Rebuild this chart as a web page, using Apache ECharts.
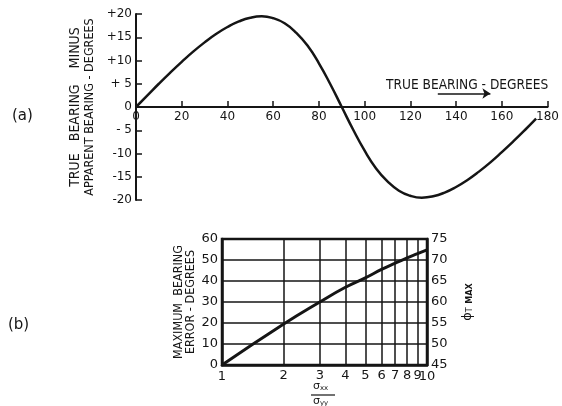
<!DOCTYPE html>
<html lang="en">
<head>
    <meta charset="UTF-8">
    <script src="https://cdn.jsdelivr.net/npm/echarts@6/dist/echarts.min.js"></script>
    <title>Bearing error</title>
    <style>
        html, body { margin: 0; padding: 0; background: #fff; }
        #chart { width: 562px; height: 406px; }
    </style>
</head>
<body>
<div id="chart"></div>
<script type="text/javascript">
    // (a) true bearing (deg) vs. true minus apparent bearing (deg)
    var bearingA = [0, 5, 10, 15, 20, 25, 30, 35, 40, 45, 50, 55, 60, 65, 70, 75, 80, 85, 90,
        95, 100, 105, 110, 115, 120, 125, 130, 135, 140, 145, 150, 155, 160, 165, 170, 175];
    var errorA = [0, 2.5, 5.0, 7.4, 9.7, 11.9, 13.9, 15.7, 17.2, 18.4, 19.2, 19.5, 19.1, 18.0, 16.0, 13.2, 9.4, 4.9, 0,
        -4.9, -9.4, -13.2, -16.0, -18.0, -19.1, -19.5, -19.2, -18.4, -17.2, -15.7, -13.9, -11.9, -9.7, -7.4, -5.0, -2.5];
    var yLabelsA = {'20': '+20', '15': '+15', '10': '+10', '5': '+ 5', '0': '0',
        '-5': '- 5', '-10': '-10', '-15': '-15', '-20': '-20'};
    // arrow under the x axis title: [from, to] bearing, at this error level
    var arrowA = [132, 155];
    var arrowLevelA = 2.9;

    // (b) ratio vs. maximum bearing error (deg)
    var ratioB = [1, 2, 3, 4, 5, 6, 7, 8, 9, 10];
    var maxErrorB = [0, 19.5, 30, 37, 41.5, 45.5, 48.5, 51, 53, 54.8];
    var gridRatiosB = [2, 3, 4, 5, 6, 7, 8, 9];

    var ink = '#151515';
    var numFont = 'DejaVu Sans';
    var nameFont = "'Liberation Sans Narrow', 'DejaVu Sans Condensed', 'Liberation Sans', sans-serif";

    var pairsA = bearingA.map(function (b, i) { return [b, errorA[i]]; });
    var pairsB = ratioB.map(function (r, i) { return [r, maxErrorB[i]]; });

    var myChart = echarts.init(document.getElementById('chart'));
    var option = {
        animation: false,
        backgroundColor: '#fff',
        grid: [
            {left: 136, top: 14, width: 414, height: 186},
            {left: 222, top: 239, width: 205, height: 126, show: true, borderColor: ink, borderWidth: 2.5}
        ],
        xAxis: [
            {
                gridIndex: 0,
                type: 'value',
                min: 0, max: 180, interval: 20,
                offset: -93, // sits on the zero line
                axisLine: {onZero: false, lineStyle: {color: ink, width: 2}},
                axisTick: {inside: true, length: 6, lineStyle: {color: ink, width: 1.5}},
                axisLabel: {color: ink, fontFamily: numFont, fontSize: 12, margin: 4},
                splitLine: {show: false}
            },
            {
                gridIndex: 1,
                type: 'log',
                logBase: 10,
                min: 1, max: 10,
                axisLine: {show: true, lineStyle: {color: ink, width: 2.5}},
                axisTick: {show: false},
                axisLabel: {color: ink, fontFamily: numFont, fontSize: 13, margin: 5},
                splitLine: {show: false}
            }
        ],
        yAxis: [
            {
                gridIndex: 0,
                type: 'value',
                min: -20, max: 20, interval: 5,
                name: '{a|TRUE   BEARING    MINUS}\n{b|APPARENT BEARING - DEGREES}',
                nameLocation: 'middle',
                nameRotate: 90,
                nameGap: 27,
                nameTextStyle: {
                    color: ink,
                    rich: {
                        a: {fontFamily: nameFont, fontSize: 14, lineHeight: 14, color: ink},
                        b: {fontFamily: nameFont, fontSize: 12.5, lineHeight: 14, color: ink}
                    }
                },
                axisLine: {onZero: false, lineStyle: {color: ink, width: 2}},
                axisTick: {inside: true, length: 6, lineStyle: {color: ink, width: 1.5}},
                axisLabel: {
                    color: ink, fontFamily: numFont, fontSize: 12, margin: 4,
                    formatter: function (v) { return yLabelsA[String(v)]; }
                },
                splitLine: {show: false}
            },
            {
                gridIndex: 1,
                type: 'value',
                min: 0, max: 60, interval: 10,
                name: 'MAXIMUM  BEARING\nERROR - DEGREES',
                nameLocation: 'middle',
                nameRotate: 90,
                nameGap: 23,
                nameTextStyle: {color: ink, fontFamily: nameFont, fontSize: 12.5, lineHeight: 12},
                axisLine: {show: true, lineStyle: {color: ink, width: 2.5}},
                axisTick: {show: false},
                axisLabel: {color: ink, fontFamily: numFont, fontSize: 13, margin: 4},
                splitLine: {show: true, lineStyle: {color: ink, width: 1.5}}
            },
            {
                gridIndex: 1,
                type: 'value',
                position: 'right',
                min: 45, max: 75, interval: 5,
                name: '{p|ϕ}{s|T} {m|MAX}',
                nameLocation: 'middle',
                nameRotate: 90,
                nameGap: 34,
                nameTextStyle: {
                    color: ink,
                    rich: {
                        p: {fontFamily: numFont, fontSize: 13, color: ink},
                        s: {fontFamily: nameFont, fontSize: 9, color: ink, verticalAlign: 'bottom', padding: [4, 0, 0, 0]},
                        m: {fontFamily: nameFont, fontSize: 9, fontWeight: 'bold', color: ink, verticalAlign: 'bottom', padding: [4, 0, 0, 0]}
                    }
                },
                axisLine: {show: true, lineStyle: {color: ink, width: 2.5}},
                axisTick: {show: false},
                axisLabel: {color: ink, fontFamily: numFont, fontSize: 13, margin: 4},
                splitLine: {show: false}
            }
        ],
        graphic: [
            {type: 'text', left: 12, top: 109, style: {text: '(a)', fill: ink, font: '15px ' + numFont}},
            {type: 'text', left: 8, top: 318, style: {text: '(b)', fill: ink, font: '15px ' + numFont}},
            {type: 'text', left: 386, top: 78, style: {text: 'TRUE BEARING - DEGREES', fill: ink, font: '13.6px ' + nameFont}},
            {type: 'text', left: 313, top: 381, style: {
                text: '{a|σ}{b|xx}', fill: ink,
                rich: {a: {fontSize: 11, fontFamily: numFont}, b: {fontSize: 7, fontFamily: numFont, verticalAlign: 'bottom'}}
            }},
            {type: 'line', shape: {x1: 311, y1: 395, x2: 335, y2: 395}, style: {stroke: ink, lineWidth: 1.2}},
            {type: 'text', left: 313, top: 396, style: {
                text: '{a|σ}{b|yy}', fill: ink,
                rich: {a: {fontSize: 11, fontFamily: numFont}, b: {fontSize: 7, fontFamily: numFont, verticalAlign: 'bottom'}}
            }}
        ],
        series: [
            {
                name: 'error',
                type: 'line',
                xAxisIndex: 0, yAxisIndex: 0,
                data: pairsA,
                smooth: true,
                showSymbol: false,
                lineStyle: {color: ink, width: 2.5},
                markLine: {
                    silent: true,
                    symbol: ['none', 'arrow'],
                    symbolSize: 8,
                    label: {show: false},
                    lineStyle: {color: ink, width: 1.5, type: 'solid'},
                    data: [[{coord: [arrowA[0], arrowLevelA]}, {coord: [arrowA[1], arrowLevelA]}]]
                }
            },
            {
                name: 'max error',
                type: 'line',
                xAxisIndex: 1, yAxisIndex: 1,
                data: pairsB,
                smooth: true,
                showSymbol: false,
                lineStyle: {color: ink, width: 3},
                markLine: {
                    silent: true,
                    symbol: 'none',
                    lineStyle: {color: ink, width: 1.5, type: 'solid'},
                    label: {
                        show: true, position: 'start', distance: 4,
                        color: ink, fontFamily: numFont, fontSize: 13,
                        formatter: function (p) { return p.value; }
                    },
                    data: gridRatiosB.map(function (r) { return {xAxis: r}; })
                }
            }
        ]
    };
    myChart.setOption(option);
</script>
</body>
</html>
